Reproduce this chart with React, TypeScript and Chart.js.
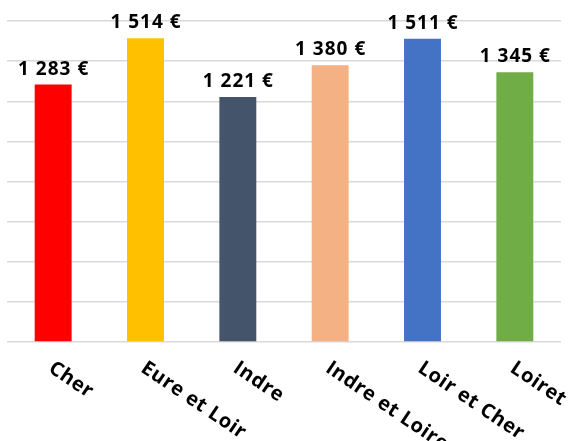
import React, { useEffect, useRef } from "react";
import { Chart, registerables } from "chart.js";

Chart.register(...registerables);

const categories = ["Cher", "Eure et Loir", "Indre", "Indre et Loire", "Loir et Cher", "Loiret"];
const values = [1283, 1514, 1221, 1380, 1511, 1345];
const valueLabels = ["1 283 €", "1 514 €", "1 221 €", "1 380 €", "1 511 €", "1 345 €"];
const colors = ["#ff0000", "#ffc000", "#44546a", "#f4b183", "#4472c4", "#70ad47"];

const FONT = "'Open Sans', 'Noto Sans', sans-serif";

const labelPlugin = {
  id: "customLabels",
  afterDatasetsDraw(chart: any) {
    const ctx = chart.ctx;
    const meta = chart.getDatasetMeta(0);
    ctx.save();
    ctx.fillStyle = "#000";
    ctx.font = `bold 19px ${FONT}`;
    ctx.letterSpacing = "1px";
    ctx.textAlign = "center";
    ctx.textBaseline = "alphabetic";
    meta.data.forEach((bar: any, i: number) => {
      ctx.fillText(valueLabels[i], bar.x + 0.5, bar.y - 10);
    });
    const xScale = chart.scales.x;
    ctx.font = `bold 20px ${FONT}`;
    ctx.letterSpacing = "0.6px";
    ctx.textAlign = "left";
    ctx.textBaseline = "top";
    categories.forEach((c, i) => {
      const x = xScale.getPixelForValue(i);
      ctx.save();
      ctx.translate(x + 3, chart.chartArea.bottom + 16);
      ctx.rotate((34 * Math.PI) / 180);
      ctx.fillText(c, 0, 0);
      ctx.restore();
    });
    ctx.restore();
  },
};

export default function App() {
  const ref = useRef<HTMLCanvasElement>(null);
  useEffect(() => {
    if (!ref.current) return;
    const chart = new Chart(ref.current, {
      type: "bar",
      data: {
        labels: categories,
        datasets: [
          {
            data: values,
            backgroundColor: colors,
            barPercentage: 0.4,
            categoryPercentage: 1,
          },
        ],
      },
      options: {
        animation: false,
        responsive: false,
        maintainAspectRatio: false,
        layout: { padding: { left: 7, right: 7, top: 21, bottom: 91 } },
        plugins: { legend: { display: false }, tooltip: { enabled: false } },
        scales: {
          x: {
            grid: { display: false },
            border: { display: false },
            ticks: { display: false },
          },
          y: {
            min: 0,
            max: 1600,
            ticks: { display: false, stepSize: 200 },
            border: { display: false },
            grid: { color: "#d9d9d9", lineWidth: 1.5, drawTicks: false },
          },
        },
      },
      plugins: [labelPlugin],
    });
    return () => chart.destroy();
  }, []);
  return (
    <div style={{ position: "fixed", left: 0, top: 0, width: 568, height: 441, background: "#fff" }}>
      <canvas ref={ref} width={568} height={441} />
    </div>
  );
}
